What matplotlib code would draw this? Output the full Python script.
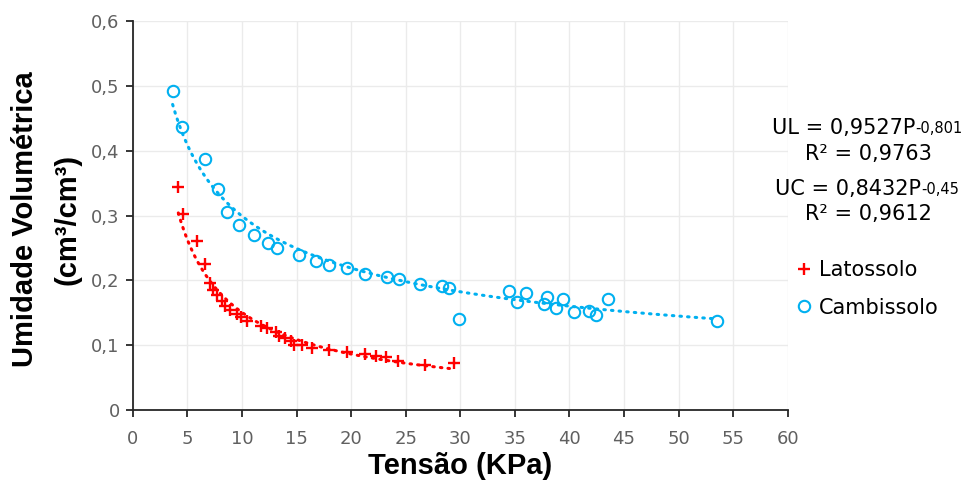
import numpy as np
import matplotlib
matplotlib.use("Agg")
import matplotlib.pyplot as plt

# Latossolo (UL)
lat_x = [4.16, 4.56, 5.87, 6.58, 7.03, 7.37, 7.74, 8.14, 8.41, 8.9, 9.5, 9.9, 10.5,
         11.74, 12.3, 13.1, 13.4, 13.9, 14.5, 14.8, 15.5, 16.4, 17.95, 19.6, 21.3,
         22.3, 23.2, 24.25, 26.8, 29.45]
lat_y = [0.344, 0.303, 0.261, 0.225, 0.196, 0.185, 0.177, 0.168, 0.16, 0.154, 0.148,
         0.143, 0.137, 0.13, 0.126, 0.12, 0.115, 0.111, 0.106, 0.1, 0.1, 0.096, 0.093,
         0.089, 0.087, 0.084, 0.082, 0.076, 0.07, 0.073]

# Cambissolo (UC)
cam_x = [3.64, 4.5, 6.6, 7.77, 8.62, 9.75, 11.1, 12.36, 13.2, 15.2, 16.8, 17.95,
         19.66, 21.25, 23.3, 24.4, 26.3, 28.3, 29.0, 29.9, 34.5, 35.2, 36.0, 37.95,
         37.7, 38.8, 39.4, 40.4, 41.8, 42.4, 43.5, 53.5]
cam_y = [0.492, 0.437, 0.388, 0.341, 0.306, 0.285, 0.27, 0.258, 0.25, 0.239, 0.23,
         0.224, 0.219, 0.21, 0.205, 0.202, 0.195, 0.191, 0.188, 0.14, 0.183, 0.167,
         0.18, 0.175, 0.163, 0.158, 0.171, 0.152, 0.153, 0.147, 0.171, 0.137]

# coeficientes das curvas de potencia (y = a * x^b)
coef_lat = [0.9527, -0.801]
coef_cam = [0.8432, -0.45]
yticks_lbl = ["0", "0,1", "0,2", "0,3", "0,4", "0,5", "0,6"]

red = "#FF0000"
blue = "#00B0F0"
fonte = "DejaVu Sans"

fig = plt.figure(figsize=(9.63, 4.9), dpi=100)
ax = fig.add_axes([0.138, 0.163, 0.68, 0.794])

xl = np.linspace(min(lat_x), max(lat_x), 200)
xc = np.linspace(min(cam_x), max(cam_x), 200)
pontilhado = (0, (0.5, 2.0))
ax.plot(xl, coef_lat[0] * xl ** coef_lat[1], color=red, lw=2.2, ls=pontilhado,
        dash_capstyle="round", zorder=2)
ax.plot(xc, coef_cam[0] * xc ** coef_cam[1], color=blue, lw=2.2, ls=pontilhado,
        dash_capstyle="round", zorder=2)

ax.plot(lat_x, lat_y, ls="none", marker="+", ms=8.2, mew=1.7, color=red,
        label="Latossolo", zorder=3)
ax.plot(cam_x, cam_y, ls="none", marker="o", ms=8.2, mew=1.5, mfc="none", mec=blue,
        label="Cambissolo", zorder=3)

ax.set_xlim(0, 60)
ax.set_ylim(0, 0.6)
ax.set_xticks(np.arange(0, 61, 5))
ax.set_yticks(np.arange(0, 0.61, 0.1))
ax.set_yticklabels(yticks_lbl)
ax.grid(True, color="#EBEBEB", lw=1)
ax.set_axisbelow(True)
for s in ["top", "right"]:
    ax.spines[s].set_visible(False)
for s in ["left", "bottom"]:
    ax.spines[s].set_color("#262626")
    ax.spines[s].set_linewidth(1.3)
ax.tick_params(direction="out", length=5, width=1.3, color="#262626",
               labelsize=13, labelcolor="#606060")
ax.tick_params(axis="x", pad=9.5)
ax.tick_params(axis="y", pad=4.5)
for t in ax.get_xticklabels() + ax.get_yticklabels():
    t.set_fontfamily(fonte)

ax.set_xlabel("Tensão (KPa)", fontsize=21, fontweight="bold", family="Liberation Sans")
ax.xaxis.set_label_coords(0.5, -0.108)
ax.set_ylabel("Umidade Volumétrica\n(cm³/cm³)", fontsize=21, fontweight="bold",
              family="Liberation Sans", linespacing=1.65)
ax.yaxis.set_label_coords(-0.079, 0.49)

# equacoes das linhas de tendencia
eq1 = fig.text(772 / 963, 1 - 134 / 490, "UL = 0,9527P", ha="left", va="baseline",
               fontsize=15, family=fonte)
fig.text(868 / 963, 1 - 159.5 / 490, "R² = 0,9763", ha="center", va="baseline",
         fontsize=15, family=fonte)
eq2 = fig.text(775 / 963, 1 - 195 / 490, "UC = 0,8432P", ha="left", va="baseline",
               fontsize=15, family=fonte)
fig.text(868 / 963, 1 - 220 / 490, "R² = 0,9612", ha="center", va="baseline",
         fontsize=15, family=fonte)
for t, sup in [(eq1, "-0,801"), (eq2, "-0,45")]:
    fig.add_artist(plt.matplotlib.text.Annotation(
        sup, xy=(1, 0.86), xycoords=t, ha="left", va="top", fontsize=10.5, family=fonte))

leg = fig.legend(loc="upper left", bbox_to_anchor=(794 / 963, 1 - 260 / 490),
                 frameon=False, prop={"family": fonte, "size": 15},
                 handletextpad=0.2, handlelength=1.0, labelspacing=0.85,
                 borderpad=0, borderaxespad=0)

fig.savefig("out.png", dpi=100)
